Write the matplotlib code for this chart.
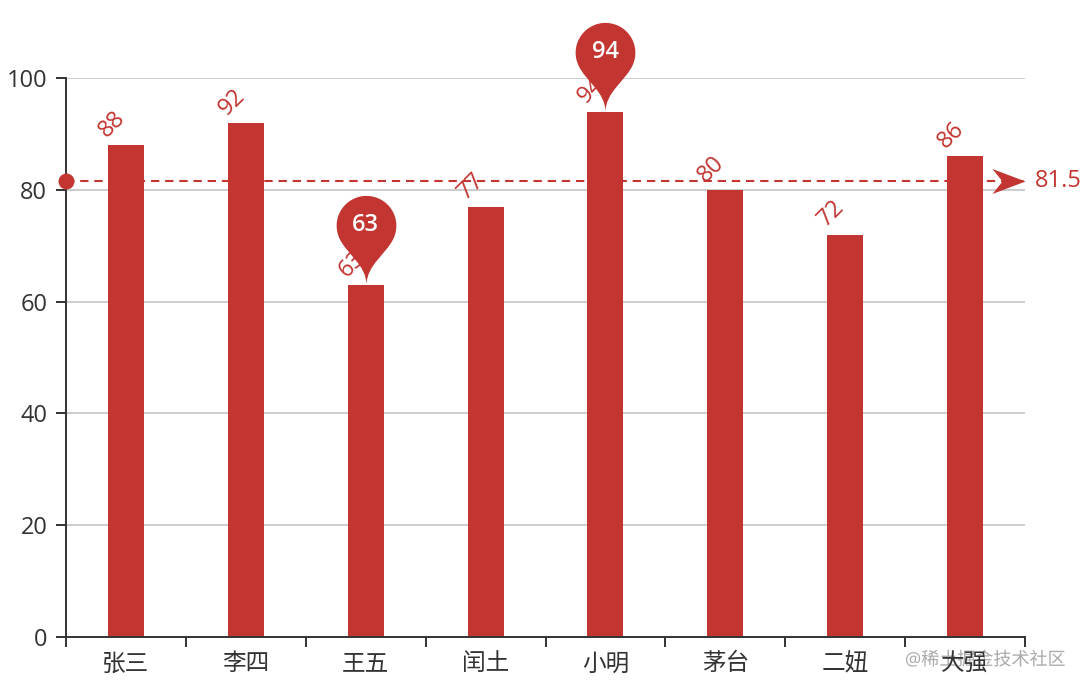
import numpy as np
import matplotlib
matplotlib.use("Agg")
import matplotlib.pyplot as plt
import matplotlib.patheffects as pe
from matplotlib.path import Path

plt.rcParams['font.family'] = ['Open Sans', 'Noto Sans CJK SC', 'DejaVu Sans']

# data
names = ["张三", "李四", "王五", "闰土", "小明", "茅台", "二妞", "大强"]
scores = [88, 92, 63, 77, 94, 80, 72, 86]

RED = "#c23531"
TXT = "#333333"
FS = 17

x = np.arange(len(names))
avg = np.mean(scores)
i_max = int(np.argmax(scores))
i_min = int(np.argmin(scores))

fig = plt.figure(figsize=(10.85, 6.88), dpi=100)
ax = fig.add_axes([66 / 1085, 1 - 637 / 688, 959 / 1085, 559 / 688])

# grid
ax.set_ylim(0, 100)
ax.set_xlim(-0.5, len(names) - 0.5)
ax.set_yticks([0, 20, 40, 60, 80, 100])
ax.yaxis.grid(True, color="#cccccc", lw=1.4)
ax.set_axisbelow(True)

# bars
ax.bar(x, scores, width=0.3, color=RED, zorder=2)

# value labels (rotated)
for xi, v in zip(x, scores):
    ax.annotate(str(v), (xi, v), xytext=(-10, 15), textcoords="offset points",
                ha="center", va="center", rotation=45, color=RED, fontsize=FS, zorder=3)

# average mark line
ax.plot([-0.5, len(names) - 0.5], [avg, avg], color=RED, lw=1.5,
        linestyle=(0, (4, 2.8)), zorder=4, clip_on=False)
ax.plot([-0.5], [avg], marker="o", ms=11.5, color=RED, mec="none", zorder=5, clip_on=False)
arrow = Path([(0, 0), (-33, 12.5), (-23, 0), (-33, -12.5), (0, 0)],
             [Path.MOVETO, Path.LINETO, Path.LINETO, Path.LINETO, Path.CLOSEPOLY])
ax.plot([len(names) - 0.5], [avg], marker=arrow, ms=47.5, color=RED, mec="none",
        zorder=5, clip_on=False)
ax.annotate(f"{avg:g}", (len(names) - 0.5, avg), xytext=(7, 0), textcoords="offset points",
            ha="left", va="center", color=RED, fontsize=FS, annotation_clip=False)

# pin marker (echarts-like), tip at origin, radius 1
r = 1.0
h = 2 + np.sqrt(2)
dy = r * r / (h - r)
C = h - r - dy
a = np.arcsin(dy / r)
dx = np.cos(a) * r
tx, ty = np.sin(a), np.cos(a)
cp1, cp2 = r * 0.6, r * 0.7
theta = np.linspace(np.pi + a, -a, 80)
arc = np.column_stack([r * np.cos(theta), C + r * np.sin(theta)])
verts = list(arc)
codes = [Path.MOVETO] + [Path.LINETO] * (len(arc) - 1)
verts += [(dx - tx * cp1, C - dy - ty * cp1), (0, cp2), (0, 0)]
codes += [Path.CURVE4] * 3
verts += [(0, cp2), (-dx + tx * cp1, C - dy - ty * cp1), (-dx, C - dy)]
codes += [Path.CURVE4] * 3
verts += [(-dx, C - dy)]
codes += [Path.CLOSEPOLY]
pin = Path(verts, codes)
pin_h = 64.5  # points, full height
top = C + r

for i in (i_max, i_min):
    ax.plot([x[i]], [scores[i]], marker=pin, ms=pin_h * 2, color=RED, mec="none",
            linestyle="none", zorder=6, clip_on=False)
    ax.annotate(str(scores[i]), (x[i], scores[i]), xytext=(0, C / top * pin_h),
                textcoords="offset points", ha="center", va="center",
                color="white", fontsize=FS, fontweight="semibold", zorder=7,
                annotation_clip=False)

# axes styling
for s in ("top", "right"):
    ax.spines[s].set_visible(False)
for s in ("left", "bottom"):
    ax.spines[s].set_color(TXT)
    ax.spines[s].set_linewidth(1.4)
ax.tick_params(axis="y", length=7.5, width=1.4, color=TXT, labelcolor=TXT,
               labelsize=FS, pad=6)
ax.set_xticks(x)
ax.set_xticklabels(names)
ax.set_xticks(np.arange(-0.5, len(names)), minor=True)
ax.tick_params(axis="x", which="major", length=0, labelcolor=TXT, labelsize=FS, pad=11)
ax.tick_params(axis="x", which="minor", length=7.5, width=1.4, color=TXT)

# watermark (under the axis labels)
fig.text(985 / 1085, 1 - 660 / 688, "@稀土掘金技术社区", color="#a0a0a0", alpha=0.85,
         fontsize=13, ha="center", va="center", zorder=-1,
         path_effects=[pe.withStroke(linewidth=2, foreground="white")])

fig.savefig("out.png", dpi=100)
